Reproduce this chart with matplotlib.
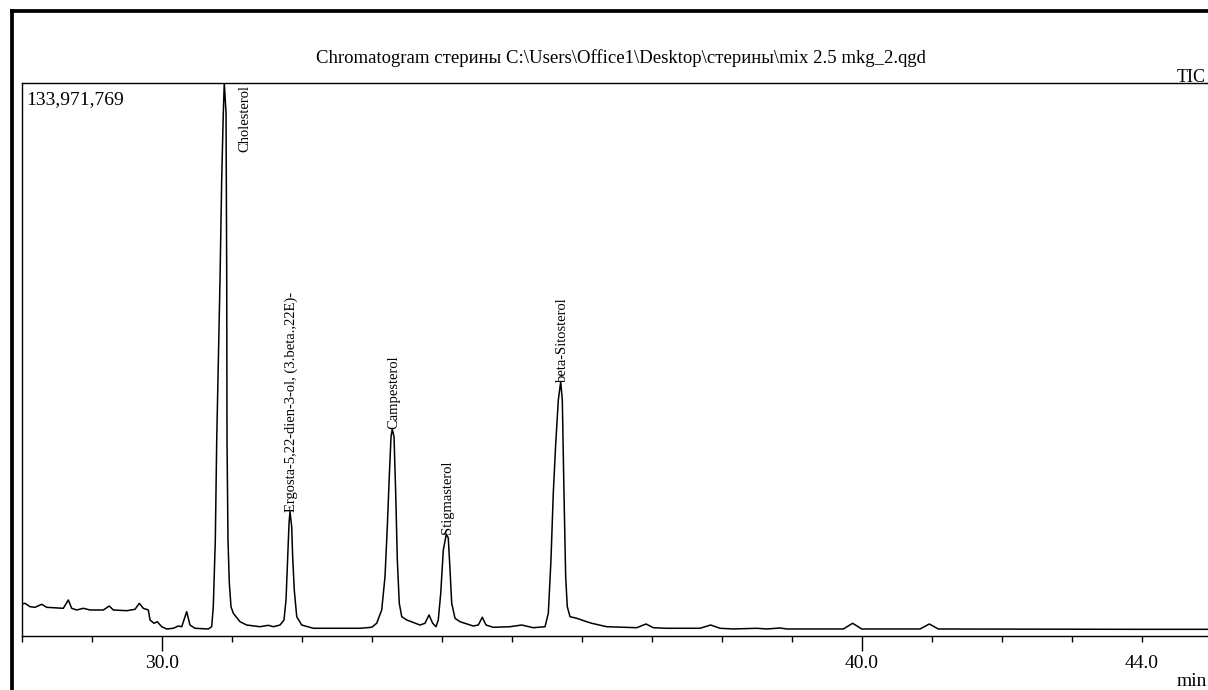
import numpy as np
import matplotlib
matplotlib.use("Agg")
import matplotlib.pyplot as plt
from matplotlib.lines import Line2D

plt.rcParams['font.family'] = ['Liberation Serif', 'DejaVu Serif']

# retention time, min
times = [28.000, 28.047, 28.119, 28.190, 28.286, 28.357, 28.594, 28.666, 28.714, 28.786,
         28.880, 28.976, 29.166, 29.251, 29.309, 29.500, 29.619, 29.680, 29.737, 29.809,
         29.833, 29.890, 29.937, 30.000, 30.071, 30.166, 30.237, 30.286, 30.357, 30.404,
         30.476, 30.666, 30.714, 30.737, 30.751, 30.766, 30.776, 30.786, 30.833, 30.857,
         30.880, 30.894, 30.919, 30.929, 30.933, 30.947, 30.966, 30.990, 31.023, 31.119,
         31.214, 31.404, 31.523, 31.594, 31.690, 31.747, 31.776, 31.800, 31.819, 31.833,
         31.857, 31.871, 31.894, 31.929, 32.000, 32.166, 32.261, 32.833, 33.000, 33.071,
         33.143, 33.190, 33.223, 33.251, 33.276, 33.294, 33.319, 33.343, 33.366, 33.394,
         33.429, 33.500, 33.690, 33.761, 33.819, 33.871, 33.919, 33.951, 33.986, 34.023,
         34.066, 34.094, 34.119, 34.143, 34.190, 34.261, 34.451, 34.523, 34.580, 34.633,
         34.737, 34.976, 35.143, 35.309, 35.476, 35.523, 35.561, 35.594, 35.629, 35.666,
         35.700, 35.723, 35.747, 35.771, 35.794, 35.833, 35.929, 36.071, 36.143, 36.357,
         36.786, 36.919, 37.023, 37.214, 37.690, 37.843, 37.976, 38.166, 38.500, 38.643,
         38.833, 38.929, 39.737, 39.871, 40.000, 40.833, 40.966, 41.094, 43.880, 44.947]

# TIC intensity, millions of counts
tic = [7.75, 7.92, 7.10, 6.95, 7.68, 6.95, 6.71, 8.72, 6.71, 6.30,
       6.71, 6.30, 6.30, 7.27, 6.30, 6.13, 6.47, 7.92, 6.71, 6.30,
       3.88, 3.08, 3.46, 2.25, 1.70, 1.87, 2.42, 2.25, 5.89, 2.66,
       1.87, 1.70, 2.25, 7.10, 15.19, 23.26, 35.37, 47.48, 86.24, 110.47,
       126.70, 133.97, 126.70, 86.24, 47.48, 23.26, 12.84, 7.10, 5.50, 3.46,
       2.66, 2.25, 2.59, 2.25, 2.66, 3.88, 8.72, 19.21, 27.30, 30.11,
       26.48, 19.21, 11.14, 4.68, 2.66, 1.87, 1.87, 1.87, 2.11, 3.08,
       6.30, 14.37, 26.48, 38.59, 48.28, 50.07, 48.28, 34.57, 18.41, 7.92,
       4.68, 3.88, 2.66, 3.08, 5.09, 3.08, 2.25, 3.88, 10.34, 20.83,
       24.71, 23.74, 15.99, 7.92, 4.29, 3.46, 2.42, 2.66, 4.53, 2.66,
       2.11, 2.25, 2.66, 2.01, 2.25, 5.50, 18.41, 34.57, 46.68, 57.17,
       61.61, 57.17, 34.57, 14.37, 7.10, 4.68, 4.29, 3.46, 3.08, 2.25,
       2.01, 2.91, 2.01, 1.87, 1.87, 2.66, 1.87, 1.70, 1.87, 1.70,
       1.94, 1.70, 1.70, 3.08, 1.70, 1.70, 2.91, 1.70, 1.62, 1.62]

peak_names = ["Ergosta-5,22-dien-3-ol, (3.beta.,22E)-", "Campesterol", "Stigmasterol",
              "beta-Sitosterol"]
peak_times = [31.833, 33.294, 34.066, 35.700]
peak_heights = [30.11, 50.07, 24.71, 61.61]

y_max = 133971769
title = "Chromatogram стерины C:\\Users\\Office1\\Desktop\\стерины\\mix 2.5 mkg_2.qgd"

fig = plt.figure(figsize=(12.08, 6.90), dpi=100)
ax = fig.add_axes([21.7 / 1208, 54 / 690, 1190 / 1208, 553 / 690])

ax.plot(times, np.array(tic) * 1e6, color="black", lw=1.1)
ax.set_xlim(28, 45)
ax.set_ylim(0, y_max)

ax.set_yticks([])
ax.set_xticks([30, 40, 44])
ax.set_xticklabels(["30.0", "40.0", "44.0"], fontsize=14)
ax.set_xticks(np.arange(28, 46, 1), minor=True)
ax.tick_params(axis="x", which="major", length=11, width=1.0, pad=3)
ax.tick_params(axis="x", which="minor", length=4, width=1.0)
ax.xaxis.get_major_ticks()[2].tick1line.set_markersize(4)
for s in ax.spines.values():
    s.set_linewidth(1.0)
ax.spines["right"].set_visible(False)

# peak labels
for name, t, h in zip(peak_names, peak_times, peak_heights):
    ax.text(t + 0.02, h * 1e6, name, rotation=90, ha="center", va="bottom", fontsize=10.5)
ax.text(31.183, y_max * 0.997, "Cholesterol", rotation=90, ha="center", va="top", fontsize=10.5)

ax.text(0.004, 0.985, "133,971,769", transform=ax.transAxes, ha="left", va="top", fontsize=14)

fig.text(621 / 1208, 1 - 63 / 690, title, ha="center", va="baseline", fontsize=13.5)
fig.text(1206 / 1208, 1 - 82 / 690, "TIC", ha="right", va="baseline", fontsize=13)
fig.text(1207 / 1208, 1 - 686 / 690, "min", ha="right", va="baseline", fontsize=14)

# outer frame
fig.add_artist(Line2D([11.7 / 1208, 11.7 / 1208], [0, 1 - 10.5 / 690], color="black", lw=2.7,
                      transform=fig.transFigure, solid_capstyle="projecting"))
fig.add_artist(Line2D([11.7 / 1208, 1.0], [1 - 10.5 / 690, 1 - 10.5 / 690], color="black", lw=2.7,
                      transform=fig.transFigure, solid_capstyle="projecting"))

fig.savefig("out.png", dpi=100)
